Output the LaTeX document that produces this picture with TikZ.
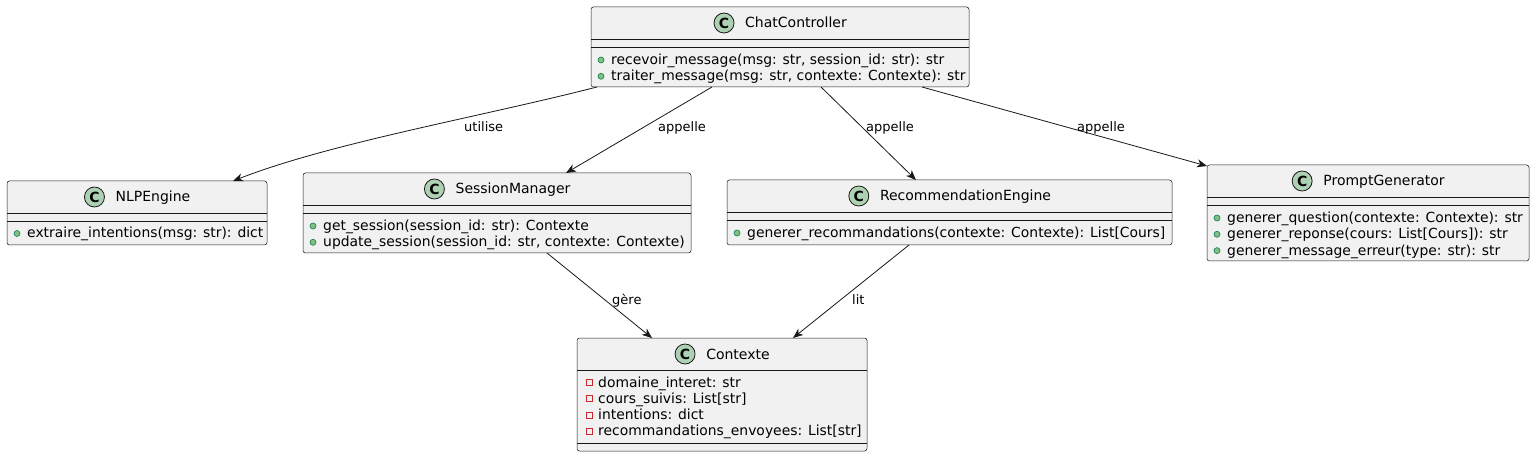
\documentclass[tikz,border=0pt]{standalone}
\usepackage{fontspec}
\setmainfont{DejaVu Sans}
\usetikzlibrary{calc,arrows.meta}
\definecolor{boxfill}{HTML}{F1F1F1}
\definecolor{boxline}{HTML}{181818}
\definecolor{spotfill}{HTML}{ADD1B2}
\definecolor{pubfill}{HTML}{84BE84}
\definecolor{publine}{HTML}{038048}
\definecolor{privline}{HTML}{C82930}
\tikzset{
 classbox/.style={draw=boxline, fill=boxfill, line width=0.5pt, rounded corners=2.5pt, anchor=north west, inner sep=0pt, outer sep=0pt},
 sepline/.style={draw=boxline, line width=0.5pt},
 titletext/.style={inner sep=0pt, font=\fontsize{14}{16}\selectfont},
 spot/.style={circle, draw=boxline, fill=spotfill, line width=0.8pt, minimum size=20pt, inner sep=0pt, font=\fontsize{14}{16}\selectfont\bfseries},
 member/.style={inner sep=0pt, anchor=base west, font=\fontsize{13.9}{16}\selectfont},
 pubicon/.style={circle, draw=publine, fill=pubfill, line width=0.6pt, minimum size=6pt, inner sep=0pt},
 privicon/.style={rectangle, draw=privline, fill=none, line width=0.8pt, minimum size=6pt, inner sep=0pt},
 assoc/.style={draw=boxline, line width=0.8pt, -{Stealth[length=10pt,width=8pt,inset=3pt]}},
 elabel/.style={inner sep=0pt, anchor=base west, font=\fontsize{13}{15}\selectfont},
}
\newcommand{\umlclass}[6]{%
 \node[classbox, minimum width=#4pt, minimum height=#5pt] (#1) at (#2,#3) {};
 \node[titletext, anchor=base] (#1-t) at ($(#1.north)+(16,21)$) {#6};
 \node[spot] (#1-c) at ($(#1-t.base west)+(-21,-5)$) {C};
 \draw[sepline] ($(#1.north west)+(0,32)$) -- ($(#1.north east)+(0,32)$);
}
\newcommand{\umlsep}[2]{%
 \draw[sepline] ($(#1.north west)+(0,#2)$) -- ($(#1.north east)+(0,#2)$);
}
\newcommand{\pubmember}[4]{%
 \node[pubicon] (#1-#2i) at ($(#1.north west)+(10,#3-4.5)$) {};
 \node[member] (#1-#2) at ($(#1.north west)+(20,#3)$) {#4};
}
\newcommand{\privmember}[4]{%
 \node[privicon] (#1-#2i) at ($(#1.north west)+(12,#3-4.5)$) {};
 \node[member] (#1-#2) at ($(#1.north west)+(21,#3)$) {#4};
}
\begin{document}
\begin{tikzpicture}[x=1pt,y=-1pt]
\fill[white] (0,0) rectangle (1535,457);
\useasboundingbox (0,0) rectangle (1535,457);

% ChatController
\umlclass{cc}{591}{7}{378}{80}{ChatController}
\umlsep{cc}{40}
\pubmember{cc}{m1}{57.5}{recevoir\_message(msg: str, session\_id: str): str}
\pubmember{cc}{m2}{73.8}{traiter\_message(msg: str, contexte: Contexte): str}

% NLPEngine
\umlclass{nlp}{7}{181}{260}{64}{NLPEngine}
\umlsep{nlp}{40}
\pubmember{nlp}{m1}{57}{extraire\_intentions(msg: str): dict}

% SessionManager
\umlclass{sm}{303}{173}{388}{80}{SessionManager}
\umlsep{sm}{40}
\pubmember{sm}{m1}{57.5}{get\_session(session\_id: str): Contexte}
\pubmember{sm}{m2}{73.8}{update\_session(session\_id: str, contexte: Contexte)}

% RecommendationEngine
\umlclass{rec}{727}{180}{445}{65}{RecommendationEngine}
\umlsep{rec}{40}
\pubmember{rec}{m1}{57.5}{generer\_recommandations(contexte: Contexte): List[Cours]}

% PromptGenerator
\umlclass{pg}{1207}{165}{322}{96}{PromptGenerator}
\umlsep{pg}{40}
\pubmember{pg}{m1}{57.5}{generer\_question(contexte: Contexte): str}
\pubmember{pg}{m2}{73.8}{generer\_reponse(cours: List[Cours]): str}
\pubmember{pg}{m3}{90.1}{generer\_message\_erreur(type: str): str}

% Contexte
\umlclass{ctx}{577}{338}{290}{113}{Contexte}
\umlsep{ctx}{105}
\privmember{ctx}{f1}{49}{domaine\_interet: str}
\privmember{ctx}{f2}{65.3}{cours\_suivis: List[str]}
\privmember{ctx}{f3}{81.6}{intentions: dict}
\privmember{ctx}{f4}{97.9}{recommandations\_envoyees: List[str]}

% connectors
\draw[assoc] ([xshift=6pt]cc.south west) .. controls +(-117,30) and +(97,-38) .. ([xshift=226pt]nlp.north west);
\draw[assoc] ([xshift=121pt]cc.south west) -- ([xshift=263pt]sm.north west);
\draw[assoc] ([xshift=230pt]cc.south west) -- ([xshift=189pt]rec.north west);
\draw[assoc] ([xshift=331pt]cc.south west) -- ([yshift=-1pt]pg.north west);
\draw[assoc] ([xshift=244pt]sm.south west) -- ([xshift=75pt]ctx.north west);
\draw[assoc] ([xshift=182pt]rec.south west) -- ([xshift=216pt]ctx.north west);

% labels
\node[elabel] (l1) at (464,131.5) {utilise};
\node[elabel] (l2) at (658,131.5) {appelle};
\node[elabel] (l3) at (866,131.5) {appelle};
\node[elabel] (l4) at (1077,131.5) {appelle};
\node[elabel] (l5) at (612,304.5) {gère};
\node[elabel] (l6) at (852,304.5) {lit};
\end{tikzpicture}
\end{document}
